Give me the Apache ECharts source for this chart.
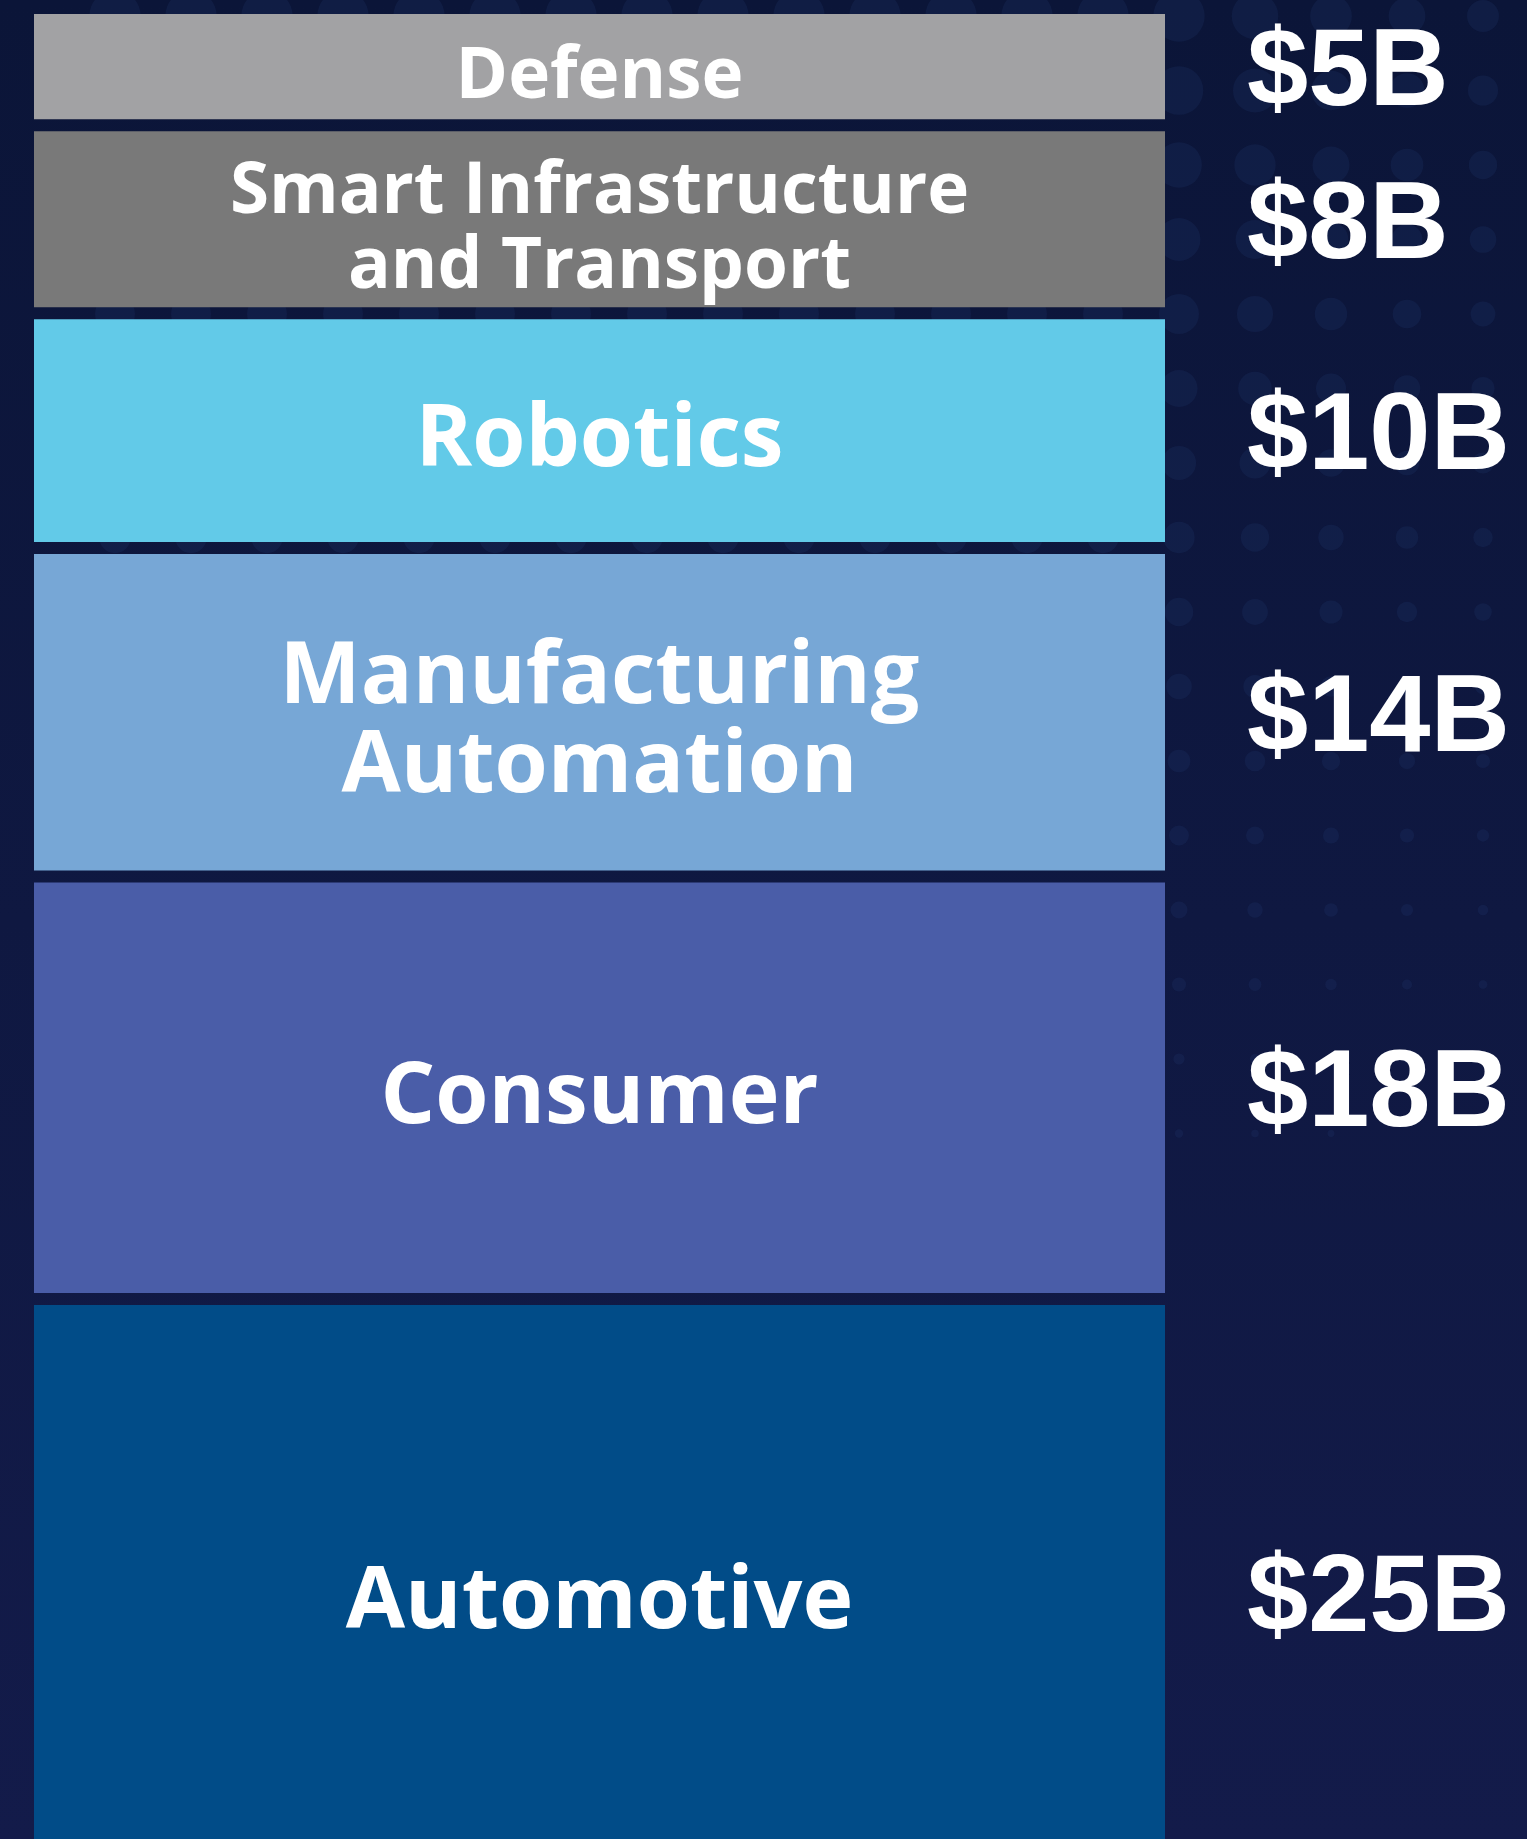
<!DOCTYPE html>
<html>
<head>
<meta charset="utf-8">
<title>Segments</title>
<script src="https://cdn.jsdelivr.net/npm/echarts@6/dist/echarts.min.js"></script>
<style>
html, body { margin: 0; padding: 0; background: #0f1942; }
#chart { width: 1527px; height: 1839px; }
</style>
</head>
<body>
<div id="chart"></div>
<script>
var segments = ['Defense', 'Smart Infrastructure\nand Transport', 'Robotics', 'Manufacturing\nAutomation', 'Consumer', 'Automotive'];
var values = [5, 8, 10, 14, 18, 25];
var valueLabels = ['$5B', '$8B', '$10B', '$14B', '$18B', '$25B'];
var colors = ['#a2a2a4', '#797979', '#62cae8', '#77a7d6', '#4a5da8', '#014c88'];

var GAP = 12;

// stack segments top to bottom: [x, start, end, index]
var rows = [];
var acc = 0;
for (var i = 0; i < values.length; i++) {
    rows.push([0, acc, acc + values[i], i]);
    acc += values[i];
}

// faint dot pattern in the background
var dots = [];
for (var r = 0; r < 18; r++) {
    for (var c = 0; c < 21; c++) {
        var x = 1179 - 76 * 15 + c * 76;
        var y = 16 + r * 74.5;
        if (x < 60) continue;
        var rad = 26 * (1 - y / 1350) * (1 - Math.max(0, x - 1180) / 800);
        if (rad < 3) continue;
        dots.push({
            type: 'circle', silent: true, z: -10,
            shape: {cx: x, cy: y, r: rad},
            style: {fill: 'rgba(40,70,130,0.17)'}
        });
    }
}

function renderSegment(params, api) {
    var idx = api.value(3);
    var p0 = api.coord([0, api.value(1)]);
    var p1 = api.coord([1, api.value(2)]);
    var y0 = p0[1] + GAP / 2, y1 = p1[1] - GAP / 2;
    var h = y1 - y0;
    var cx = (p0[0] + p1[0]) / 2, cy = (y0 + y1) / 2;
    var small = h < 200;
    return {
        type: 'group',
        children: [
            {
                type: 'rect',
                shape: {x: p0[0], y: y0, width: p1[0] - p0[0], height: h},
                style: {fill: colors[idx]}
            },
            {
                type: 'text',
                style: {
                    text: segments[idx], x: cx, y: cy + 11,
                    align: 'center', verticalAlign: 'middle',
                    fill: '#ffffff', fontFamily: 'Open Sans', fontWeight: 'bold',
                    fontSize: small ? 71 : 86, lineHeight: small ? 75 : 89
                }
            },
            {
                type: 'text',
                style: {
                    text: valueLabels[idx], x: p1[0] + 82, y: cy + 8,
                    align: 'left', verticalAlign: 'middle',
                    fill: '#ffffff', fontFamily: 'Liberation Sans', fontWeight: 'bold',
                    fontSize: 110
                }
            }
        ]
    };
}

var option = {
    animation: false,
    backgroundColor: {
        type: 'linear', x: 0, y: 0, x2: 0, y2: 1,
        colorStops: [{offset: 0, color: '#0b1538'}, {offset: 1, color: '#131b4a'}]
    },
    graphic: dots,
    grid: {left: 34, top: 8, width: 1131, bottom: 0},
    xAxis: {type: 'value', min: 0, max: 1, show: false},
    // the bottom segment runs past the lower edge of the picture
    yAxis: {type: 'value', min: 0, max: 78, inverse: true, show: false},
    series: [{
        type: 'custom',
        renderItem: renderSegment,
        encode: {x: 0, y: [1, 2]},
        data: rows
    }]
};

var myChart = echarts.init(document.getElementById('chart'));
myChart.setOption(option, true);
</script>
</body>
</html>
